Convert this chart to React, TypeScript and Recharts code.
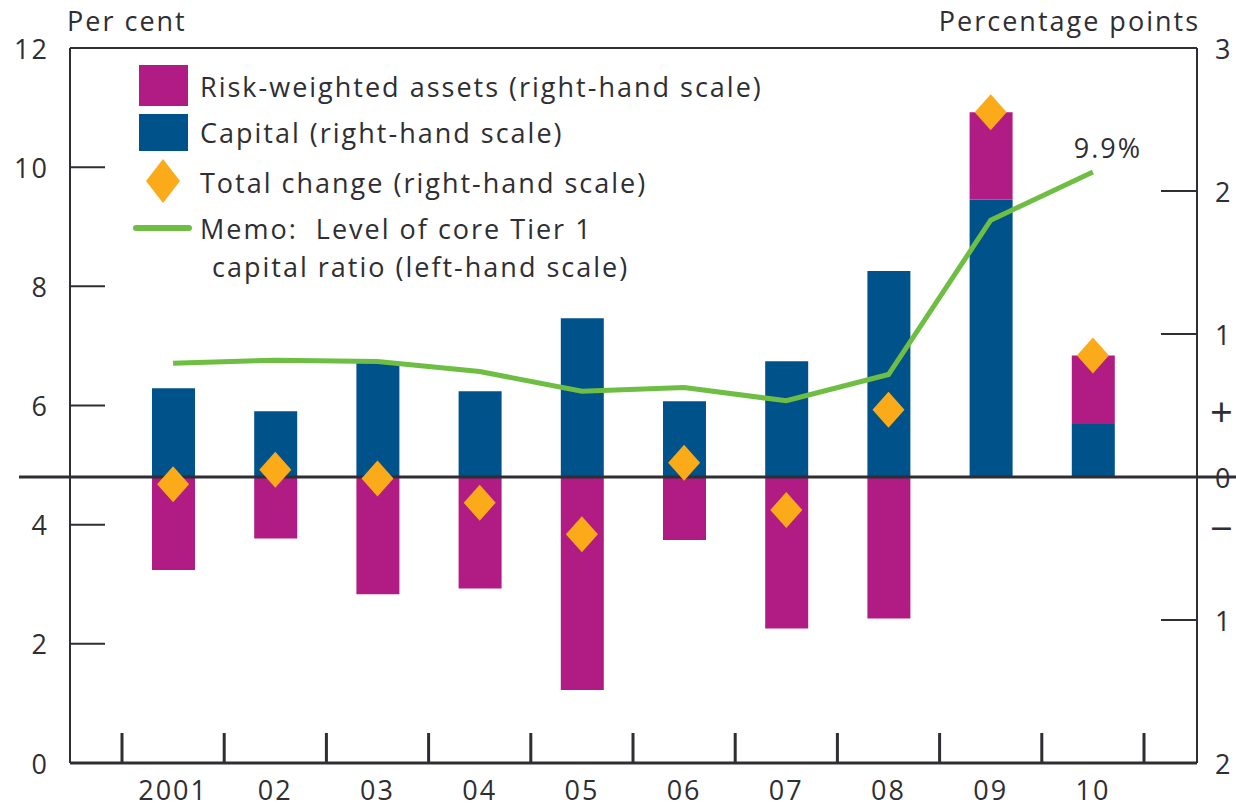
import React from "react"
import {
  ComposedChart,
  Bar,
  Line,
  Scatter,
  XAxis,
  YAxis,
  ReferenceLine,
  LabelList,
} from "recharts"

// ── Data ──────────────────────────────────────────────────────────────────────
const years = ["2001", "02", "03", "04", "05", "06", "07", "08", "09", "10"]
const capital = [0.62, 0.46, 0.8, 0.6, 1.11, 0.53, 0.81, 1.44, 1.94, 0.37]
const riskWeighted = [-0.65, -0.43, -0.82, -0.78, -1.49, -0.44, -1.06, -0.99, 0.61, 0.48]
const totalChange = [-0.05, 0.05, -0.01, -0.18, -0.4, 0.1, -0.23, 0.47, 2.55, 0.85]
const tier1Ratio = [6.71, 6.76, 6.74, 6.57, 6.24, 6.3, 6.08, 6.52, 9.11, 9.92]
const leftTicks = [0, 2, 4, 6, 8, 10, 12]
const rightTicks = [-2, -1, 0, 1, 2, 3]

const data = years.map((year, i) => ({
  year,
  capital: capital[i],
  rwa: riskWeighted[i],
  total: totalChange[i],
  ratio: tier1Ratio[i],
}))

// ── Look ──────────────────────────────────────────────────────────────────────
const W = 1236
const H = 803
const LEFT_W = 70
const RIGHT_W = 39
const PAD = { left: 52, right: 53 }
const STEP = (W - LEFT_W - RIGHT_W - PAD.left - PAD.right) / years.length
const INK = "#2e2e33"
const FONT = "'Open Sans', 'Noto Sans', sans-serif"
const MAGENTA = "#b01c84"
const BLUE = "#00538a"
const ORANGE = "#fbab19"
const GREEN = "#6ebe44"

const textStyle = { fontFamily: FONT, fontSize: 27, fill: INK, letterSpacing: 2 }

function XTick(props: any) {
  const { x, y, payload, index } = props
  const last = index === years.length - 1
  return (
    <g>
      <line x1={x - STEP / 2} x2={x - STEP / 2} y1={y} y2={y - 30} stroke={INK} strokeWidth={3} />
      {last && <line x1={x + STEP / 2} x2={x + STEP / 2} y1={y} y2={y - 30} stroke={INK} strokeWidth={3} />}
      <text x={x} y={y + 37} textAnchor="middle" {...textStyle}>
        {payload.value}
      </text>
    </g>
  )
}

function LeftTick(props: any) {
  const { x, y, payload } = props
  const v = payload.value
  return (
    <g>
      {v > 0 && v < 12 && <line x1={x} x2={x + 35} y1={y} y2={y} stroke={INK} strokeWidth={2} />}
      <text x={x - 21} y={y} textAnchor="end" dominantBaseline="central" {...textStyle}>
        {v}
      </text>
    </g>
  )
}

function RightTick(props: any) {
  const { x, y, payload } = props
  const v = payload.value
  return (
    <g>
      {v > -2 && v < 3 && <line x1={x - 36} x2={x} y1={y} y2={y} stroke={INK} strokeWidth={2} />}
      <text x={x + 18} y={y} textAnchor="start" dominantBaseline="central" {...textStyle}>
        {Math.abs(v)}
      </text>
      {v === 0 && (
        <>
          <text x={x + 13} y={y - 66} textAnchor="start" dominantBaseline="central" {...textStyle} fontSize={40} letterSpacing={0}>
            +
          </text>
          <text x={x + 13} y={y + 50} textAnchor="start" dominantBaseline="central" {...textStyle} fontSize={40} letterSpacing={0}>
            −
          </text>
        </>
      )}
    </g>
  )
}

function Diamond(props: any) {
  const { cx, cy } = props
  const w = 16
  const h = 18
  return (
    <polygon
      points={`${cx},${cy - h} ${cx + w},${cy} ${cx},${cy + h} ${cx - w},${cy}`}
      fill={ORANGE}
    />
  )
}

function LastLabel(props: any) {
  const { x, y, index, value } = props
  if (index !== years.length - 1) return null
  return (
    <text x={x + 15} y={y - 24} textAnchor="middle" dominantBaseline="central" {...textStyle}>
      {`${value.toFixed(1)}%`}
    </text>
  )
}

// ── Legend (drawn over the plot, top-left) ───────────────────────────────────
const legendText: React.CSSProperties = {
  position: "absolute",
  fontFamily: FONT,
  fontSize: 27,
  letterSpacing: 2,
  color: INK,
  whiteSpace: "pre",
  lineHeight: "1",
  transform: "translateY(-50%)",
}

function ChartLegend() {
  return (
    <>
      <svg style={{ position: "absolute", left: 0, top: 0 }} width={W} height={300}>
        <rect x={139} y={65} width={49} height={41} fill={MAGENTA} />
        <rect x={139} y={114} width={49} height={37} fill={BLUE} />
        <polygon points="163,159 180,181 163,203 146,181" fill={ORANGE} />
        <line x1={136} x2={189} y1={228} y2={228} stroke={GREEN} strokeWidth={6} strokeLinecap="round" />
      </svg>
      <div style={{ ...legendText, left: 200, top: 86 }}>Risk-weighted assets (right-hand scale)</div>
      <div style={{ ...legendText, left: 200, top: 132 }}>Capital (right-hand scale)</div>
      <div style={{ ...legendText, left: 200, top: 182 }}>Total change (right-hand scale)</div>
      <div style={{ ...legendText, left: 200, top: 228 }}>Memo:  Level of core Tier 1</div>
      <div style={{ ...legendText, left: 212, top: 266 }}>capital ratio (left-hand scale)</div>
    </>
  )
}

export default function App() {
  return (
    <div style={{ position: "absolute", left: 0, top: 0, width: W, height: H, background: "#fff" }}>
      <ComposedChart
        width={W}
        height={H}
        data={data}
        stackOffset="sign"
        margin={{ top: 47, right: 0, bottom: 0, left: 0 }}
      >
        <XAxis
          dataKey="year"
          padding={PAD}
          interval={0}
          tickSize={0}
          tickMargin={0}
          tickLine={false}
          height={40}
          axisLine={{ stroke: INK, strokeWidth: 3 }}
          tick={<XTick />}
        />
        <XAxis
          xAxisId="top"
          dataKey="year"
          orientation="top"
          padding={PAD}
          height={1}
          tick={false}
          tickLine={false}
          axisLine={{ stroke: INK, strokeWidth: 2 }}
        />
        <YAxis
          yAxisId="left"
          domain={[0, 12]}
          ticks={leftTicks}
          width={LEFT_W}
          tickSize={0}
          tickMargin={0}
          tickLine={false}
          axisLine={{ stroke: INK, strokeWidth: 2 }}
          tick={<LeftTick />}
          interval={0}
        />
        <YAxis
          yAxisId="right"
          orientation="right"
          domain={[-2, 3]}
          ticks={rightTicks}
          width={RIGHT_W}
          tickSize={0}
          tickMargin={0}
          tickLine={false}
          axisLine={{ stroke: INK, strokeWidth: 2 }}
          tick={<RightTick />}
          interval={0}
        />
        <Bar yAxisId="right" dataKey="capital" stackId="a" fill={BLUE} barSize={43} isAnimationActive={false} />
        <Bar yAxisId="right" dataKey="rwa" stackId="a" fill={MAGENTA} barSize={43} isAnimationActive={false} />
        <ReferenceLine
          yAxisId="right"
          y={0}
          shape={(p: any) => (
            <line
              x1={p.x1 + PAD.left - 4}
              x2={p.x2 - PAD.right + 2}
              y1={p.y1}
              y2={p.y2}
              stroke={INK}
              strokeWidth={3}
            />
          )}
        />
        <Line
          yAxisId="left"
          dataKey="ratio"
          type="linear"
          stroke={GREEN}
          strokeWidth={5}
          dot={false}
          activeDot={false}
          isAnimationActive={false}
        >
          <LabelList dataKey="ratio" content={<LastLabel />} />
        </Line>
        <Scatter yAxisId="right" dataKey="total" shape={<Diamond />} isAnimationActive={false} />
      </ComposedChart>

      <div style={{ ...legendText, left: 67, top: 20 }}>Per cent</div>
      <div style={{ ...legendText, right: W - 1200, top: 20 }}>Percentage points</div>
      <ChartLegend />
    </div>
  )
}
